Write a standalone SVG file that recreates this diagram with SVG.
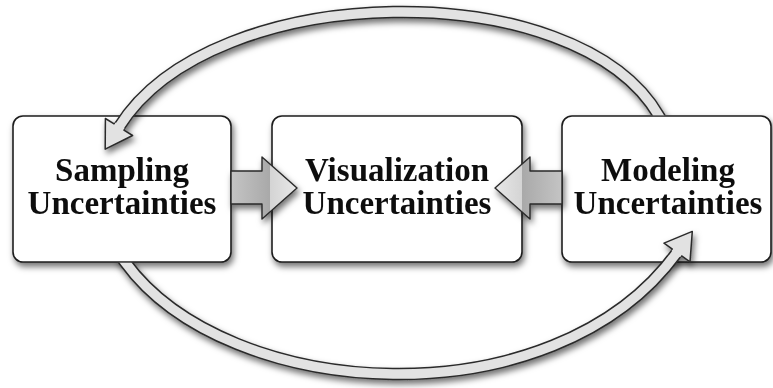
<svg xmlns="http://www.w3.org/2000/svg" width="773" height="388" viewBox="0 0 773 388">
  <defs>
    <filter id="shadow" x="-20%" y="-20%" width="140%" height="150%">
      <feDropShadow dx="2" dy="4" stdDeviation="3" flood-color="#000" flood-opacity="0.55"/>
    </filter>
    <linearGradient id="g1" gradientUnits="userSpaceOnUse" x1="231" y1="0" x2="297" y2="0">
      <stop offset="0" stop-color="#c4c4c4"/>
      <stop offset="0.59" stop-color="#a9a9a9"/>
      <stop offset="0.59" stop-color="#d4d4d4"/>
      <stop offset="1" stop-color="#e8e8e8"/>
    </linearGradient>
    <linearGradient id="g2" gradientUnits="userSpaceOnUse" x1="562" y1="0" x2="495" y2="0">
      <stop offset="0" stop-color="#c4c4c4"/>
      <stop offset="0.597" stop-color="#a9a9a9"/>
      <stop offset="0.597" stop-color="#d4d4d4"/>
      <stop offset="1" stop-color="#e8e8e8"/>
    </linearGradient>
    <clipPath id="clipTop">
      <path clip-rule="evenodd" d="M0 0H773V388H0Z M561.2 115.2H771.8V262.8H561.2Z"/>
    </clipPath>
    <clipPath id="clipBottom">
      <path clip-rule="evenodd" d="M0 0H773V388H0Z M12.2 115.2H231.8V262.8H12.2Z"/>
    </clipPath>
    <style>
      .box { fill: #ffffff; stroke: #1e1e1e; stroke-width: 1.6; }
      .lbl { font-family: "Liberation Serif", "Times New Roman", serif; font-weight: bold; font-size: 33px; fill: #111; text-anchor: middle; }
      .shaftOut { fill: none; stroke: #2a2a2a; stroke-width: 12.5; }
      .shaftIn { fill: none; stroke: #e2e2e2; stroke-width: 9.5; }
      .headFill { fill: #e2e2e2; stroke: none; }
      .headLine { fill: none; stroke: #2a2a2a; stroke-width: 1.5; stroke-linejoin: round; }
      .block { stroke: #2a2a2a; stroke-width: 1.4; stroke-linejoin: round; }
    </style>
  </defs>
  <rect width="773" height="388" fill="#ffffff"/>

  <g id="node-sampling" filter="url(#shadow)">
    <rect class="box" x="13" y="116" width="218" height="146" rx="10"/>
    <text class="lbl" x="122" y="181">Sampling</text>
    <text class="lbl" x="122" y="214">Uncertainties</text>
  </g>
  <g id="node-visualization" filter="url(#shadow)">
    <rect class="box" x="272" y="116" width="250" height="146" rx="10"/>
    <text class="lbl" x="397" y="181">Visualization</text>
    <text class="lbl" x="397" y="214">Uncertainties</text>
  </g>
  <g id="node-modeling" filter="url(#shadow)">
    <rect class="box" x="562" y="116" width="209" height="146" rx="10"/>
    <text class="lbl" x="668" y="181">Modeling</text>
    <text class="lbl" x="668" y="214">Uncertainties</text>
  </g>

  <g id="connectors">
    <g id="arrow-modeling-sampling" filter="url(#shadow)" clip-path="url(#clipTop)">
      <path class="shaftOut" d="M663 123 L659 116 C576.6 -26.7 212.1 -22.3 119 127"/>
      <path class="shaftIn" d="M663 123 L659 116 C576.6 -26.7 212.1 -22.3 119 127"/>
      <polygon class="headFill" points="123.5,129.8 132.6,135.5 105.2,149.1 105.4,118.5 114.5,124.2 115.6,122.5 124.6,128.1"/>
      <polyline class="headLine" points="123.5,129.8 132.6,135.5 105.2,149.1 105.4,118.5 114.5,124.2"/>
    </g>
    <g id="arrow-sampling-modeling" filter="url(#shadow)" clip-path="url(#clipBottom)">
      <path class="shaftOut" d="M120 255 L125 262 C227.7 403 552.9 422.8 677 252.5"/>
      <path class="shaftIn" d="M120 255 L125 262 C227.7 403 552.9 422.8 677 252.5"/>
      <polygon class="headFill" points="681.3,255.6 690,261.9 692.3,231.4 664,243.1 672.7,249.4 671.5,251 680.1,257.2"/>
      <polyline class="headLine" points="681.3,255.6 690,261.9 692.3,231.4 664,243.1 672.7,249.4"/>
    </g>
    <g id="arrow-sampling-visualization" filter="url(#shadow)">
      <polygon class="block" fill="url(#g1)" points="231,171 262,171 262,157 297,188 262,219 262,204 231,204"/>
    </g>
    <g id="arrow-modeling-visualization" filter="url(#shadow)">
      <polygon class="block" fill="url(#g2)" points="562,171 530,171 530,157 495,188 530,219 530,204 562,204"/>
    </g>
  </g>
</svg>
